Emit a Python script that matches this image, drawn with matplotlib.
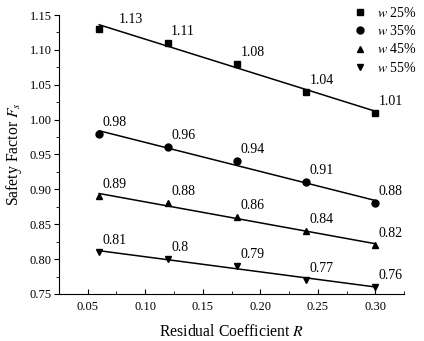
import numpy as np
import matplotlib
matplotlib.use("Agg")
import matplotlib.pyplot as plt
from matplotlib.ticker import MultipleLocator, FormatStrFormatter

plt.rcParams['font.family'] = ['Liberation Serif', 'DejaVu Serif']
plt.rcParams['mathtext.fontset'] = 'stix'

# data
residual = [0.06, 0.12, 0.18, 0.24, 0.30]
fs_w25 = [1.13, 1.11, 1.08, 1.04, 1.01]
fs_w35 = [0.98, 0.96, 0.94, 0.91, 0.88]
fs_w45 = [0.89, 0.88, 0.86, 0.84, 0.82]
fs_w55 = [0.81, 0.80, 0.79, 0.77, 0.76]
series_labels = ['$w$ 25%', '$w$ 35%', '$w$ 45%', '$w$ 55%']
value_labels = [
    ['1.13', '1.11', '1.08', '1.04', '1.01'],
    ['0.98', '0.96', '0.94', '0.91', '0.88'],
    ['0.89', '0.88', '0.86', '0.84', '0.82'],
    ['0.81', '0.8', '0.79', '0.77', '0.76'],
]

markers = ['s', 'o', '^', 'v']

fig = plt.figure(figsize=(4.24, 3.41), dpi=100)
ax = fig.add_axes([0.139, 0.138, 0.814, 0.818])

x = np.array(residual)
for i, ys in enumerate([fs_w25, fs_w35, fs_w45, fs_w55]):
    ys = np.array(ys)
    ax.plot(x, ys, linestyle='none', marker=markers[i], color='black',
            markersize=5, label=series_labels[i])
    # linear fit line
    k, b = np.polyfit(x, ys, 1)
    ax.plot(x, k * x + b, color='black', linewidth=1.1)
    for j in range(len(x)):
        off = (3, 5)
        if i == 0 and j == 0:
            off = (20, 3)
        ax.annotate(value_labels[i][j], (x[j], ys[j]), xytext=off,
                    textcoords='offset pixels', ha='left', va='bottom',
                    fontsize=10)

ax.set_xlim(0.025, 0.325)
ax.set_ylim(0.75, 1.15)
ax.xaxis.set_major_locator(MultipleLocator(0.05))
ax.xaxis.set_minor_locator(MultipleLocator(0.025))
ax.yaxis.set_major_locator(MultipleLocator(0.05))
ax.yaxis.set_minor_locator(MultipleLocator(0.025))
ax.xaxis.set_major_formatter(FormatStrFormatter('%.2f'))
ax.yaxis.set_major_formatter(FormatStrFormatter('%.2f'))

ax.spines['top'].set_visible(False)
ax.spines['right'].set_visible(False)
ax.tick_params(axis='x', which='both', direction='in', labelsize=9, pad=5)
ax.tick_params(axis='y', which='both', direction='out', labelsize=9, pad=1.5)
ax.tick_params(which='major', length=3.5)
ax.tick_params(which='minor', length=2)

ax.set_xlabel('Residual Coefficient $R$', fontsize=11.3, labelpad=8)
ax.set_ylabel('Safety Factor $F_s$', fontsize=11.3, labelpad=4)

fig.legend(loc='upper left', bbox_to_anchor=(0.82, 1.0), frameon=False,
           fontsize=10, handlelength=1.0, handletextpad=0.7,
           labelspacing=0.32, borderaxespad=0)

fig.savefig('out.png', dpi=100)
